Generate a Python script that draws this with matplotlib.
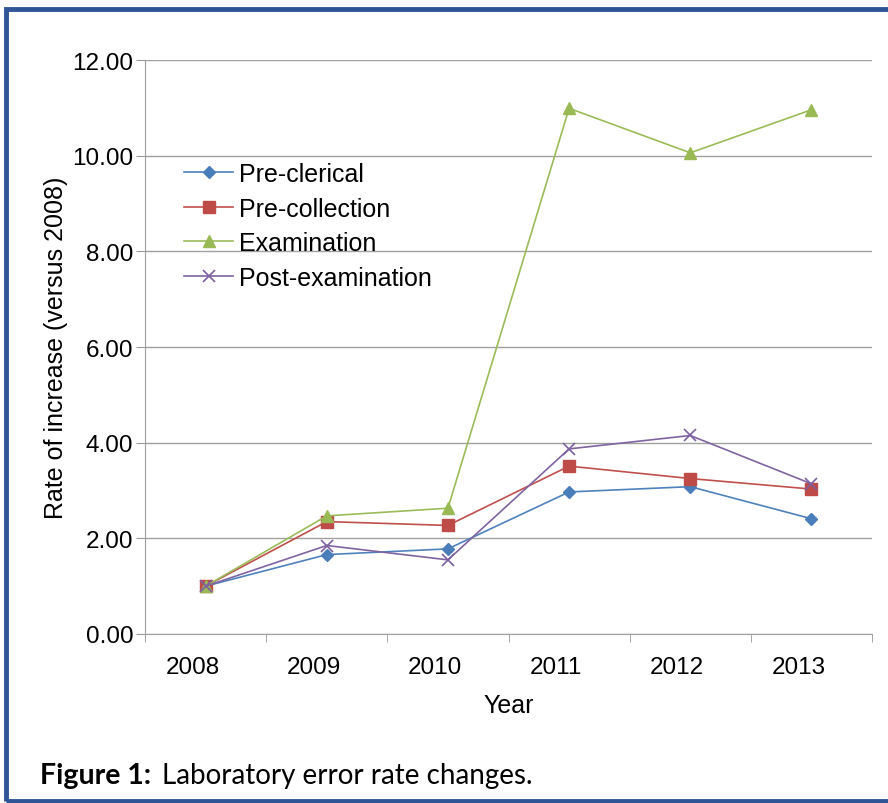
import numpy as np
import matplotlib.pyplot as plt
import matplotlib.transforms as mtransforms
from matplotlib.patches import Rectangle

plt.rcParams['font.family'] = ['Liberation Sans', 'DejaVu Sans']

years = ['2008', '2009', '2010', '2011', '2012', '2013']
pre_clerical = [1.00, 1.66, 1.78, 2.97, 3.08, 2.41]
pre_collection = [1.00, 2.35, 2.27, 3.51, 3.25, 3.03]
examination = [1.00, 2.47, 2.63, 10.99, 10.06, 10.96]
post_examination = [1.00, 1.85, 1.55, 3.87, 4.15, 3.14]

fig = plt.figure(figsize=(8.88, 8.04), dpi=100)
ax = fig.add_axes([0.1633, 0.2102, 0.8187, 0.7139])

x = np.arange(len(years))
ax.plot(x, pre_clerical, color='#4f81bd', marker='D', markersize=6.5, mfc='#4a7ebb', mec='#4a7ebb',
        lw=1.2, label='Pre-clerical')
ax.plot(x, pre_collection, color='#c0504d', marker='s', markersize=8, mfc='#be4b48', mec='#be4b48',
        lw=1.2, label='Pre-collection')
ax.plot(x, examination, color='#9bbb59', marker='^', markersize=8.5, mfc='#98b954', mec='#98b954',
        lw=1.2, label='Examination')
ax.plot(x, post_examination, color='#8064a2', marker='x', markersize=9, mec='#7d60a0', mew=1.2,
        lw=1.2, label='Post-examination')

ax.set_xlim(-0.5, 5.5)
ax.set_ylim(0, 12)
ax.set_yticks(np.arange(0, 12.1, 2))
ax.set_yticklabels(['%.2f' % v for v in np.arange(0, 12.1, 2)], fontsize=17.5)
ax.set_xticks(x)
ax.set_xticklabels(years, fontsize=17.5)
ax.set_xticks(np.arange(-0.5, 5.6, 1), minor=True)
ax.tick_params(axis='x', which='major', length=0, pad=16)
ax.tick_params(axis='x', which='minor', length=6, color='#999999')
ax.tick_params(axis='y', length=6.5, color='#999999', pad=2)
ax.yaxis.grid(True, color='#a0a0a0', lw=1)
ax.set_axisbelow(True)
for s in ['top', 'right']:
    ax.spines[s].set_visible(False)
for s in ['left', 'bottom']:
    ax.spines[s].set_color('#a0a0a0')

# year labels sit a little left of the category centres in the original
shift = mtransforms.ScaledTranslation(-0.13, 0, fig.dpi_scale_trans)
for lbl in ax.get_xticklabels():
    lbl.set_transform(lbl.get_transform() + shift)

ax.set_xlabel('Year', fontsize=18, labelpad=11)
ax.set_ylabel('Rate of increase (versus 2008)', fontsize=18, labelpad=3)

ax.legend(loc='upper left', bbox_to_anchor=(0.2075, 0.797), bbox_transform=fig.transFigure,
          frameon=False, fontsize=18, handlelength=1.95, labelspacing=0.42,
          handletextpad=0.25, borderpad=0, borderaxespad=0)

fig.text(0.045, 0.025, 'Figure 1:', fontsize=20.5, fontweight='bold', family=['Lato', 'DejaVu Sans'])
fig.text(0.182, 0.025, 'Laboratory error rate changes.', fontsize=20,
         family=['Lato', 'DejaVu Sans'])

fig.patches.append(Rectangle((0.0065, 0.003), 1.2, 0.985, transform=fig.transFigure,
                             fill=False, edgecolor='#2f5597', lw=3.5))

fig.savefig('out.png', dpi=100)
